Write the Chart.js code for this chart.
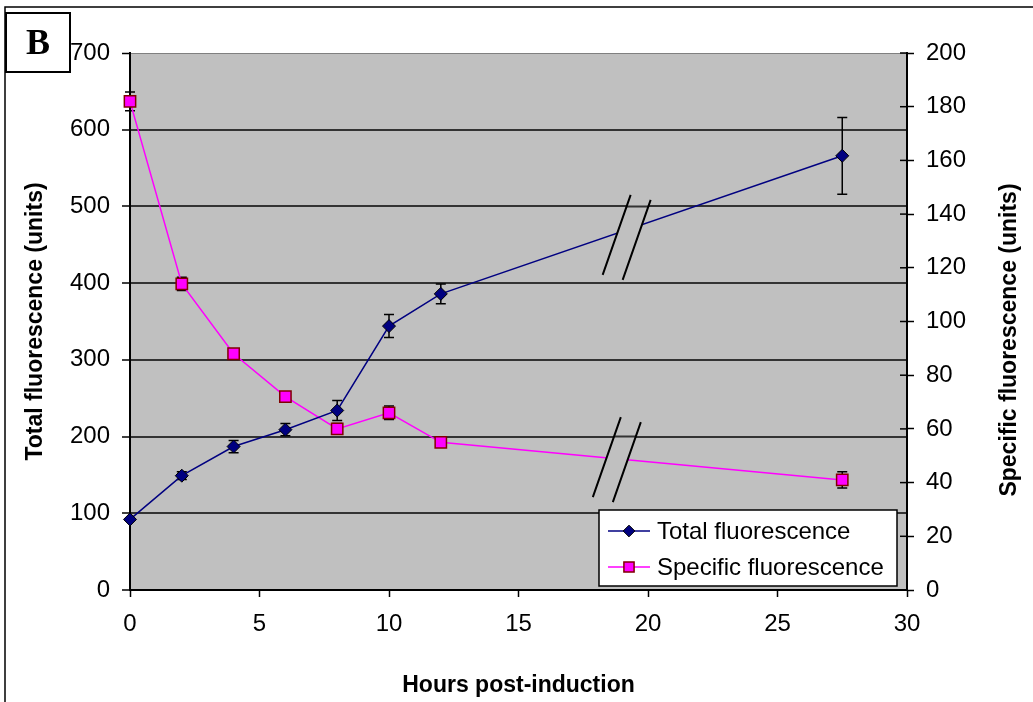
<!DOCTYPE html>
<html>
<head>
<meta charset="utf-8">
<script src="https://cdn.jsdelivr.net/npm/chart.js@4.4.1/dist/chart.umd.min.js"></script>
<style>
html, body { margin: 0; padding: 0; background: #fff; }
#wrap { position: relative; width: 1033px; height: 702px; }
</style>
</head>
<body>
<div id="wrap"><canvas id="chart" width="1033" height="702"></canvas></div>
<script>
// Data
const hours = [0, 2, 4, 6, 8, 10, 12, 27.5];
const totalFluor = [92, 149, 187, 209, 234, 344, 386, 566];
const totalErr = [0, 5, 8, 8, 13, 15, 13, 50];
const specificFluor = [182, 114, 88, 72, 60, 66, 55, 41];
const specificErr = [3.5, 2.5, 1.5, 1, 2, 2.5, 1, 3];
const seriesNames = ['Total fluorescence', 'Specific fluorescence'];

const FONT = "'Liberation Sans', Arial, sans-serif";

function pts(ys) {
    return hours.map((h, i) => ({ x: h, y: ys[i] }));
}
const errorsFor = [totalErr, specificErr];

// axis-break marks (data coords of first slash centre)
const breakMarks = [
    { x: 18.79, y: 463, axis: 'y' },
    { x: 18.41, y: 49.5, axis: 'y1' }
];

const frame = {
    id: 'frame',
    beforeDraw(chart) {
        const { ctx, chartArea: a } = chart;
        ctx.save();
        ctx.fillStyle = '#fff';
        ctx.fillRect(0, 0, chart.width, chart.height);
        ctx.fillStyle = '#c0c0c0';
        ctx.fillRect(a.left, a.top, a.right - a.left, a.bottom - a.top);
        ctx.strokeStyle = '#000';
        ctx.lineWidth = 1.5;
        ctx.beginPath();
        ctx.moveTo(5, 702);
        ctx.lineTo(5, 7);
        ctx.lineTo(1033, 7);
        ctx.stroke();
        ctx.restore();
    },
    afterDraw(chart) {
        const ctx = chart.ctx;
        ctx.save();
        // panel letter
        ctx.fillStyle = '#fff';
        ctx.fillRect(6, 13, 64, 59);
        ctx.strokeStyle = '#000';
        ctx.lineWidth = 2;
        ctx.strokeRect(6, 13, 64, 59);
        ctx.fillStyle = '#000';
        ctx.font = "bold 36px 'Liberation Serif', 'Times New Roman', serif";
        ctx.textAlign = 'center';
        ctx.textBaseline = 'middle';
        ctx.fillText('B', 38, 45);

        // right axis title, reads bottom to top
        ctx.save();
        ctx.translate(1010, 340);
        ctx.rotate(-Math.PI / 2);
        ctx.font = 'bold 23px ' + FONT;
        ctx.fillText('Specific fluorescence (units)', 0, 0);
        ctx.restore();

        // legend
        const L = 599, T = 510, W = 298, H = 76;
        ctx.fillStyle = '#fff';
        ctx.fillRect(L, T, W, H);
        ctx.strokeStyle = '#000';
        ctx.lineWidth = 1.5;
        ctx.strokeRect(L, T, W, H);
        chart.data.datasets.forEach((ds, i) => {
            const y = T + 21 + i * 36;
            ctx.strokeStyle = ds.borderColor;
            ctx.lineWidth = 1.5;
            ctx.beginPath();
            ctx.moveTo(L + 9, y);
            ctx.lineTo(L + 51, y);
            ctx.stroke();
            drawMarker(ctx, ds, L + 30, y, 0.9);
            ctx.fillStyle = '#000';
            ctx.font = '24px ' + FONT;
            ctx.textAlign = 'left';
            ctx.textBaseline = 'middle';
            ctx.fillText(ds.label, L + 58, y + 1);
        });
        ctx.restore();
    }
};

function drawMarker(ctx, ds, x, y, k) {
    const r = ds.pointRadius * k;
    ctx.save();
    ctx.fillStyle = ds.pointBackgroundColor;
    ctx.strokeStyle = ds.pointBorderColor;
    ctx.lineWidth = ds.pointBorderWidth;
    ctx.beginPath();
    if (ds.pointStyle === 'rectRot') {
        ctx.moveTo(x - r, y);
        ctx.lineTo(x, y - r);
        ctx.lineTo(x + r, y);
        ctx.lineTo(x, y + r);
    } else {
        const s = r * Math.SQRT1_2;
        ctx.rect(x - s, y - s, 2 * s, 2 * s);
    }
    ctx.closePath();
    ctx.fill();
    ctx.stroke();
    ctx.restore();
}

const errorBars = {
    id: 'errorBars',
    beforeDatasetsDraw(chart) {
        const { ctx } = chart;
        const xs = chart.scales.x;
        ctx.save();
        ctx.strokeStyle = '#000';
        ctx.lineWidth = 1.5;
        chart.data.datasets.forEach((ds, di) => {
            const ys = chart.scales[ds.yAxisID];
            ds.data.forEach((p, i) => {
                const e = errorsFor[di][i];
                if (!e) return;
                const px = xs.getPixelForValue(p.x);
                const top = ys.getPixelForValue(p.y + e);
                const bot = ys.getPixelForValue(p.y - e);
                ctx.beginPath();
                ctx.moveTo(px, top); ctx.lineTo(px, bot);
                ctx.moveTo(px - 5, top); ctx.lineTo(px + 5, top);
                ctx.moveTo(px - 5, bot); ctx.lineTo(px + 5, bot);
                ctx.stroke();
            });
        });
        ctx.restore();
    },
    afterDatasetsDraw(chart) {
        const { ctx, chartArea: a } = chart;
        const xs = chart.scales.x, yl = chart.scales.y;
        ctx.save();
        breakMarks.forEach(b => {
            const cx = xs.getPixelForValue(b.x);
            const cy = chart.scales[b.axis].getPixelForValue(b.y);
            const hx = 14, hy = 40, sx = 20, sy = 5;
            const p1 = [cx - hx, cy + hy], p2 = [cx + hx, cy - hy];
            const q1 = [p1[0] + sx, p1[1] + sy], q2 = [p2[0] + sx, p2[1] + sy];
            ctx.save();
            ctx.beginPath();
            ctx.moveTo(p1[0], p1[1]); ctx.lineTo(p2[0], p2[1]);
            ctx.lineTo(q2[0], q2[1]); ctx.lineTo(q1[0], q1[1]);
            ctx.closePath();
            ctx.fillStyle = '#c0c0c0';
            ctx.fill();
            ctx.clip();
            // restore gridlines inside the gap
            ctx.strokeStyle = '#333';
            ctx.lineWidth = 2;
            yl.ticks.forEach(t => {
                if (t.value <= 0 || t.value >= 700) return;
                const gy = yl.getPixelForValue(t.value);
                ctx.beginPath();
                ctx.moveTo(a.left, gy); ctx.lineTo(a.right, gy);
                ctx.stroke();
            });
            ctx.restore();
            ctx.strokeStyle = '#000';
            ctx.lineWidth = 2;
            ctx.beginPath();
            ctx.moveTo(p1[0], p1[1]); ctx.lineTo(p2[0], p2[1]);
            ctx.moveTo(q1[0], q1[1]); ctx.lineTo(q2[0], q2[1]);
            ctx.stroke();
        });
        // inward tick marks on the right axis
        const yr = chart.scales.y1;
        ctx.strokeStyle = '#000';
        ctx.lineWidth = 1.5;
        yr.ticks.forEach(t => {
            const gy = yr.getPixelForValue(t.value);
            ctx.beginPath();
            ctx.moveTo(a.right - 7, gy); ctx.lineTo(a.right, gy);
            ctx.stroke();
        });
        ctx.restore();
    }
};

new Chart(document.getElementById('chart'), {
    type: 'line',
    data: {
        datasets: [{
            label: seriesNames[0],
            data: pts(totalFluor),
            yAxisID: 'y',
            borderColor: '#000080',
            borderWidth: 1.5,
            pointStyle: 'rectRot',
            pointRadius: 6.5,
            pointBackgroundColor: '#000080',
            pointBorderColor: '#000000',
            pointBorderWidth: 1,
            tension: 0,
            clip: false
        }, {
            label: seriesNames[1],
            data: pts(specificFluor),
            yAxisID: 'y1',
            borderColor: '#ff00ff',
            borderWidth: 1.5,
            pointStyle: 'rect',
            pointRadius: 8,
            pointBackgroundColor: '#ff00ff',
            pointBorderColor: '#800000',
            pointBorderWidth: 1.5,
            tension: 0,
            clip: false
        }]
    },
    options: {
        responsive: false,
        animation: false,
        layout: { padding: { top: 53, left: 0, right: 0, bottom: 0 } },
        plugins: { legend: { display: false }, tooltip: { enabled: false } },
        scales: {
            x: {
                type: 'linear',
                min: 0, max: 30,
                afterFit: s => { s.height = 112; },
                ticks: { stepSize: 5, padding: 13, color: '#000', font: { size: 24, family: FONT } },
                grid: { drawOnChartArea: false, tickLength: 7, tickColor: '#000', tickWidth: 1.5 },
                border: { color: '#000', width: 2 },
                title: { display: true, text: 'Hours post-induction', color: '#000',
                    font: { size: 23, weight: 'bold', family: FONT }, padding: { top: 0, bottom: 3 } }
            },
            y: {
                position: 'left',
                min: 0, max: 700,
                afterFit: s => { s.width = 130; },
                ticks: { stepSize: 100, padding: 12, color: '#000', font: { size: 24, family: FONT } },
                grid: {
                    color: c => c.tick && c.tick.value === 700 ? '#808080' : '#333333',
                    lineWidth: c => c.tick && c.tick.value === 700 ? 1 : 2,
                    tickLength: 8, tickColor: '#000', tickWidth: 1.5
                },
                border: { color: '#000', width: 2 },
                title: { display: true, text: 'Total fluorescence (units)', color: '#000',
                    font: { size: 23, weight: 'bold', family: FONT }, padding: { top: 22, bottom: 0 } }
            },
            y1: {
                position: 'right',
                min: 0, max: 200,
                afterFit: s => { s.width = 126; },
                ticks: { stepSize: 20, padding: 12, color: '#000', font: { size: 24, family: FONT } },
                grid: { drawOnChartArea: false, tickLength: 7, tickColor: '#000', tickWidth: 1.5 },
                border: { color: '#000', width: 2 }
            }
        }
    },
    plugins: [frame, errorBars]
});
</script>
</body>
</html>
